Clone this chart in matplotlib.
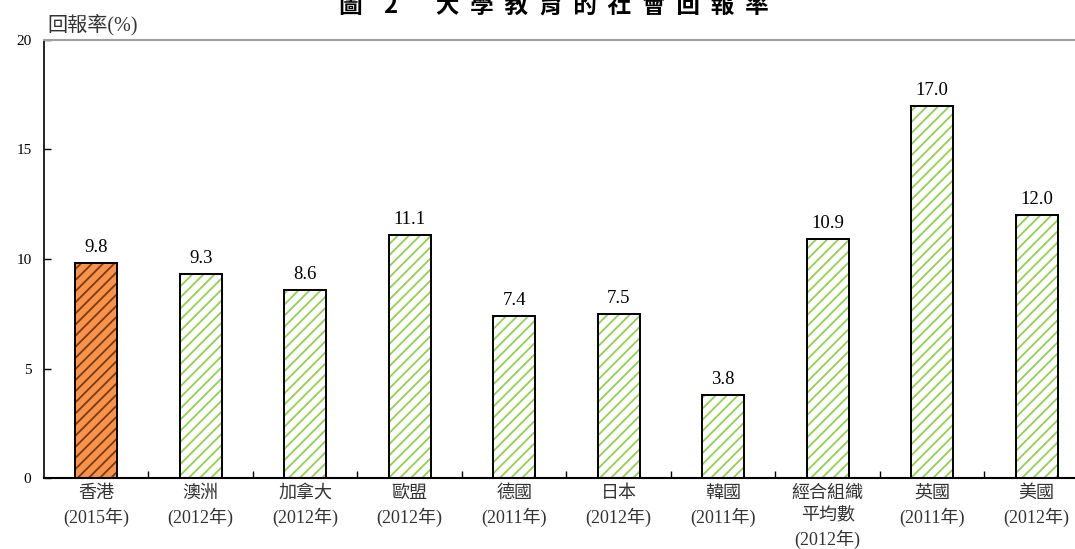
import matplotlib
matplotlib.use('Agg')
import matplotlib.pyplot as plt
import numpy as np

categories = ['香港\n(2015年)', '澳洲\n(2012年)', '加拿大\n(2012年)', '歐盟\n(2012年)',
              '德國\n(2011年)', '日本\n(2012年)', '韓國\n(2011年)',
              '經合組織\n平均數\n(2012年)', '英國\n(2011年)', '美國\n(2012年)']
values = [9.8, 9.3, 8.6, 11.1, 7.4, 7.5, 3.8, 10.9, 17.0, 12.0]
highlight = [True, False, False, False, False, False, False, False, False, False]
yticks = [0, 5, 10, 15, 20]
title_head = '圖 2'
title_body = '大學教育的社會回報率'
ylabel = '回報率(%)'

plt.rcParams['font.family'] = ['Liberation Serif', 'Noto Sans CJK TC']
plt.rcParams['hatch.linewidth'] = 1.3

W, H = 1075, 549
fig = plt.figure(figsize=(W / 100, H / 100), dpi=100)
ax = fig.add_axes([44 / W, 1 - 478 / H, 1045 / W, 438 / H])

x = np.arange(len(values))
fills = ['#F7934A' if h else 'white' for h in highlight]
hatch_cols = ['#7A3A10' if h else '#92D050' for h in highlight]
ax.bar(x, values, width=0.4, color=fills, edgecolor=hatch_cols, hatch='///', linewidth=0, zorder=2)
ax.bar(x, values, width=0.4, fill=False, edgecolor='black', linewidth=1.4, zorder=3)

for xi, v in zip(x, values):
    ax.annotate(f'{v:.1f}', (xi, v), xytext=(0, 5), textcoords='offset points',
                ha='center', va='bottom', fontsize=13.5, color='black')

ax.set_xlim(-0.5, len(values) - 0.5)
ax.set_ylim(0, 20)
ax.set_yticks(yticks)
ax.set_xticks(x)
ax.set_xticklabels(categories, fontsize=13, color='#333333', linespacing=1.38)
ax.set_xticks(x[:-1] + 0.5, minor=True)
ax.tick_params(axis='x', which='major', length=0, pad=5)
ax.tick_params(axis='x', which='minor', direction='in', length=5, width=1, color='black')
ax.tick_params(axis='y', direction='in', length=5, width=1, pad=9, labelsize=11)

for s in ['left', 'bottom']:
    ax.spines[s].set_color('black')
ax.spines['left'].set_linewidth(1.2)
ax.spines['bottom'].set_linewidth(1.5)
ax.spines['top'].set_color('#A0A0A0')
ax.spines['top'].set_linewidth(1.5)
ax.spines['right'].set_visible(False)

fig.text(47 / W, 1 - 30 / H, ylabel, fontsize=14.5, ha='left', va='baseline', color='#333333')
title = title_head.replace(' ', '    ') + '       ' + '  '.join(title_body)
fig.text(554 / W, 1 - 14 / H, title, fontsize=17, fontweight='bold', ha='center', va='baseline',
         family=['Noto Sans CJK TC', 'DejaVu Sans'])

fig.savefig('out.png', dpi=100)
